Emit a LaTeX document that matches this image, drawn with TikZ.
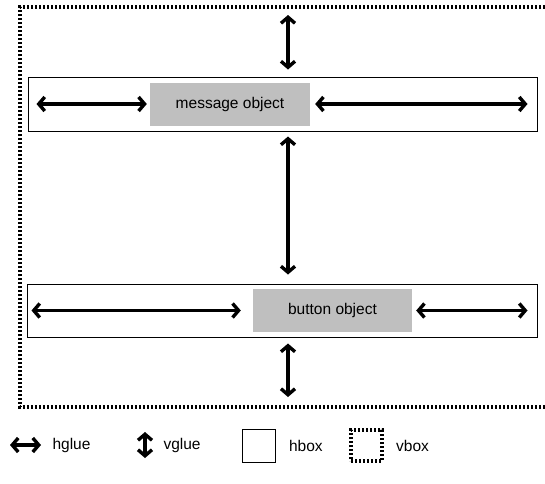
\documentclass[tikz,border=0pt]{standalone}
\usepackage{fontspec}
\setmainfont{Liberation Sans}
\usetikzlibrary{arrows.meta,positioning}

\tikzset{
  glue/.style={line width=3.4pt,
    {Straight Barb[length=6pt,width=14pt]}-{Straight Barb[length=6pt,width=14pt]}},
  hbox/.style={draw, line width=1pt, inner sep=0pt},
  obj/.style={fill=black!25, minimum height=43pt, inner sep=0pt,
    font=\fontsize{15.5}{18}\selectfont},
  vbox/.style={line width=3.4pt, dash pattern=on 2.2pt off 1.8pt},
  lbl/.style={anchor=west, font=\fontsize{15.5}{18}\selectfont}
}

\begin{document}
\begin{tikzpicture}[x=1pt,y=-1pt]
  % \draw[step=10,thin,gray!40] (0,0) grid (545,483);
  \useasboundingbox (0,0) rectangle (545,483);

  % outer vbox, runs off the right edge
  \coordinate (vTop) at (288,7);
  \coordinate (vBot) at (288,407);
  \draw[vbox] (545,7) -- (20,7) -- (20,407) -- (545,407);

  \node[hbox, minimum width=509pt, minimum height=54pt] (msgBox) at (282.5,104) {};
  \node[obj, minimum width=160pt] (msgObj) at (230,104) {message object};
  \node[hbox, minimum width=510pt, minimum height=53pt] (btnBox) at (282,310.5) {};
  \node[obj, minimum width=159pt] (btnObj) at (332.5,310.5) {button object};

  \draw[glue, shorten <=9pt, shorten >=3pt] (msgBox.west) -- (msgObj.west);
  \draw[glue, shorten <=5pt, shorten >=10pt] (msgObj.east) -- (msgBox.east);
  \draw[glue, shorten <=5pt, shorten >=12pt] (btnBox.west) -- (btnObj.west);
  \draw[glue, shorten <=4pt, shorten >=10pt] (btnObj.east) -- (btnBox.east);

  \draw[glue, shorten <=8pt, shorten >=7pt] (vTop) -- (vTop |- msgBox.north);
  \draw[glue, shorten <=5pt, shorten >=9pt] (vTop |- msgBox.south) -- (vTop |- btnBox.north);
  \draw[glue, shorten <=6pt, shorten >=10pt] (vTop |- btnBox.south) -- (vBot);

  % legend
  \coordinate (hKeyA) at (10,445);
  \coordinate (hKeyB) at (41,445);
  \draw[glue] (hKeyA) -- (hKeyB);
  \node[lbl] (hglueLbl) at (49,445) {hglue};

  \coordinate (vKeyA) at (145,432);
  \coordinate (vKeyB) at (145,458);
  \draw[glue] (vKeyA) -- (vKeyB);
  \node[lbl] (vglueLbl) at (160,445) {vglue};

  \node[hbox, minimum size=33pt] (hboxKey) at (258.5,445.5) {};
  \node[lbl, right=10pt of hboxKey] (hboxLbl) {hbox};

  \node[draw, vbox, minimum size=31pt] (vboxKey) at (366.5,445.5) {};
  \node[lbl, right=9pt of vboxKey] (vboxLbl) {vbox};
\end{tikzpicture}
\end{document}
